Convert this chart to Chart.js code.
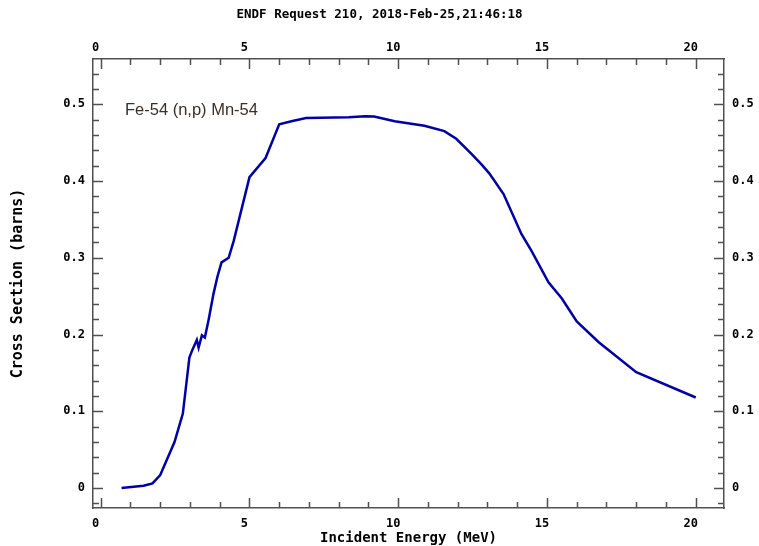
<!DOCTYPE html>
<html>
<head>
<meta charset="utf-8">
<script src="https://cdn.jsdelivr.net/npm/chart.js@4/dist/chart.umd.min.js"></script>
<style>
  html, body { margin: 0; padding: 0; background: #ffffff; }
  #wrap { width: 759px; height: 546px; position: relative; }
</style>
</head>
<body>
<div id="wrap"><canvas id="c"></canvas></div>
<script>
// ---- data ----
const seriesLabel = 'Fe-54 (n,p) Mn-54';
const energy = [0.70, 0.94, 1.44, 1.74, 2.0, 2.48, 2.76, 2.98, 3.08, 3.23, 3.29, 3.40, 3.50, 3.63, 3.79, 3.92, 4.06, 4.30, 4.47, 5.0, 5.54, 6.0, 6.41, 6.90, 8.34, 8.89, 9.19, 9.88, 10.88, 11.55, 11.95, 12.47, 12.79, 13.06, 13.54, 14.14, 14.48, 15.05, 15.50, 16.0, 16.74, 18.0, 20.0];
const crossSection = [0.0, 0.001, 0.003, 0.006, 0.017, 0.06, 0.097, 0.17, 0.18, 0.193, 0.183, 0.199, 0.196, 0.22, 0.253, 0.275, 0.294, 0.30, 0.322, 0.405, 0.43, 0.474, 0.478, 0.482, 0.483, 0.4845, 0.484, 0.478, 0.472, 0.465, 0.455, 0.435, 0.422, 0.41, 0.383, 0.331, 0.309, 0.268, 0.247, 0.217, 0.19, 0.151, 0.118];

const xTickValues = [0, 5, 10, 15, 20];
const xTickLabels = ['0', '5', '10', '15', '20'];
const xMinorValues = [0, 1, 2, 3, 4, 5, 6, 7, 8, 9, 10, 11, 12, 13, 14, 15, 16, 17, 18, 19, 20];
const yTickValues = [0, 0.1, 0.2, 0.3, 0.4, 0.5];
const yTickLabels = ['0', '0.1', '0.2', '0.3', '0.4', '0.5'];
const yMinorValues = [-0.02, 0, 0.02, 0.04, 0.06, 0.08, 0.1, 0.12, 0.14, 0.16, 0.18, 0.2, 0.22, 0.24, 0.26, 0.28, 0.3, 0.32, 0.34, 0.36, 0.38, 0.4, 0.42, 0.44, 0.46, 0.48, 0.5, 0.52, 0.54];

const titleText = 'ENDF Request 210, 2018-Feb-25,21:46:18';
const xTitle = 'Incident Energy (MeV)';
const yTitle = 'Cross Section (barns)';

const X_MIN = -0.26, X_MAX = 20.95, Y_MIN = -0.026, Y_MAX = 0.559;

// ---- styling ----
const FRAME = '#505050';
const MONO = '"DejaVu Sans Mono", monospace';
const tickFont = { family: MONO, size: 12, weight: 'bold' };

function setTicks(values) {
  return function (scale) {
    scale.ticks = values.map(v => ({ value: v }));
  };
}
function labelFor(values, labels) {
  return function (value) {
    const i = values.findIndex(v => Math.abs(v - value) < 1e-9);
    return i >= 0 ? labels[i] : '';
  };
}

const inwardTicks = {
  id: 'inwardTicks',
  afterDatasetsDraw(chart) {
    const { ctx, chartArea: a, scales } = chart;
    ctx.save();
    ctx.strokeStyle = FRAME;
    ctx.lineWidth = 1.5;
    ctx.beginPath();
    for (const v of xMinorValues) {
      const px = Math.round(scales.x.getPixelForValue(v)) + 0.5;
      const len = xTickValues.includes(v) ? 10 : 6;
      ctx.moveTo(px, a.bottom); ctx.lineTo(px, a.bottom - len);
      ctx.moveTo(px, a.top); ctx.lineTo(px, a.top + len);
    }
    for (const v of yMinorValues) {
      const py = Math.round(scales.y.getPixelForValue(v)) + 0.5;
      const major = yTickValues.some(t => Math.abs(t - v) < 1e-9);
      const len = major ? 10 : 6;
      ctx.moveTo(a.left, py); ctx.lineTo(a.left + len, py);
      ctx.moveTo(a.right, py); ctx.lineTo(a.right - len, py);
    }
    ctx.stroke();
    // series label inside the plot
    ctx.fillStyle = '#3a3028';
    ctx.font = '16.5px "Liberation Sans", Arial, sans-serif';
    ctx.textBaseline = 'middle';
    ctx.textAlign = 'left';
    ctx.fillText(chart.data.datasets[0].label, a.left + 32, a.top + 51);
    ctx.restore();
  }
};

const axisBorder = { display: true, color: FRAME, width: 1.5 };

new Chart(document.getElementById('c'), {
  type: 'line',
  data: {
    datasets: [{
      label: seriesLabel,
      data: energy.map((e, i) => ({ x: e, y: crossSection[i] })),
      borderColor: '#0000a8',
      borderWidth: 2.5,
      pointRadius: 0,
      tension: 0,
      fill: false
    }]
  },
  options: {
    responsive: true,
    maintainAspectRatio: false,
    animation: false,
    layout: { padding: 0 },
    plugins: {
      legend: { display: false },
      tooltip: { enabled: false },
      title: {
        display: true, text: titleText, fullSize: true, align: 'center',
        color: '#000', font: { family: MONO, size: 12.5, weight: 'bold' },
        padding: { top: 7, bottom: 7 }
      }
    },
    scales: {
      x: {
        type: 'linear', position: 'bottom', min: X_MIN, max: X_MAX,
        grid: { display: false, drawTicks: false },
        border: axisBorder,
        afterBuildTicks: setTicks(xTickValues),
        afterFit: s => { s.height = 38; },
        ticks: { font: tickFont, color: '#000', padding: 9, labelOffset: -5, maxRotation: 0, autoSkip: false, callback: labelFor(xTickValues, xTickLabels) },
        title: { display: true, text: xTitle, font: { family: MONO, size: 14, weight: 'bold' }, color: '#000', padding: { top: 0, bottom: -1 } }
      },
      x2: {
        type: 'linear', position: 'top', min: X_MIN, max: X_MAX,
        grid: { display: false, drawTicks: false },
        border: axisBorder,
        afterBuildTicks: setTicks(xTickValues),
        afterFit: s => { s.height = 30; },
        ticks: { font: tickFont, color: '#000', padding: 4, labelOffset: -5, maxRotation: 0, autoSkip: false, callback: labelFor(xTickValues, xTickLabels) }
      },
      y: {
        type: 'linear', position: 'left', min: Y_MIN, max: Y_MAX,
        grid: { display: false, drawTicks: false },
        border: axisBorder,
        afterBuildTicks: setTicks(yTickValues),
        afterFit: s => { s.width = 93; },
        ticks: { font: tickFont, color: '#000', padding: 8, autoSkip: false, callback: labelFor(yTickValues, yTickLabels) },
        title: { display: true, text: yTitle, font: { family: MONO, size: 15, weight: 'bold' }, color: '#000', padding: { top: 9, bottom: 0 } }
      },
      y2: {
        type: 'linear', position: 'right', min: Y_MIN, max: Y_MAX,
        grid: { display: false, drawTicks: false },
        border: axisBorder,
        afterBuildTicks: setTicks(yTickValues),
        afterFit: s => { s.width = 35; },
        ticks: { font: tickFont, color: '#000', padding: 8, autoSkip: false, callback: labelFor(yTickValues, yTickLabels) }
      }
    }
  },
  plugins: [inwardTicks]
});
</script>
</body>
</html>
